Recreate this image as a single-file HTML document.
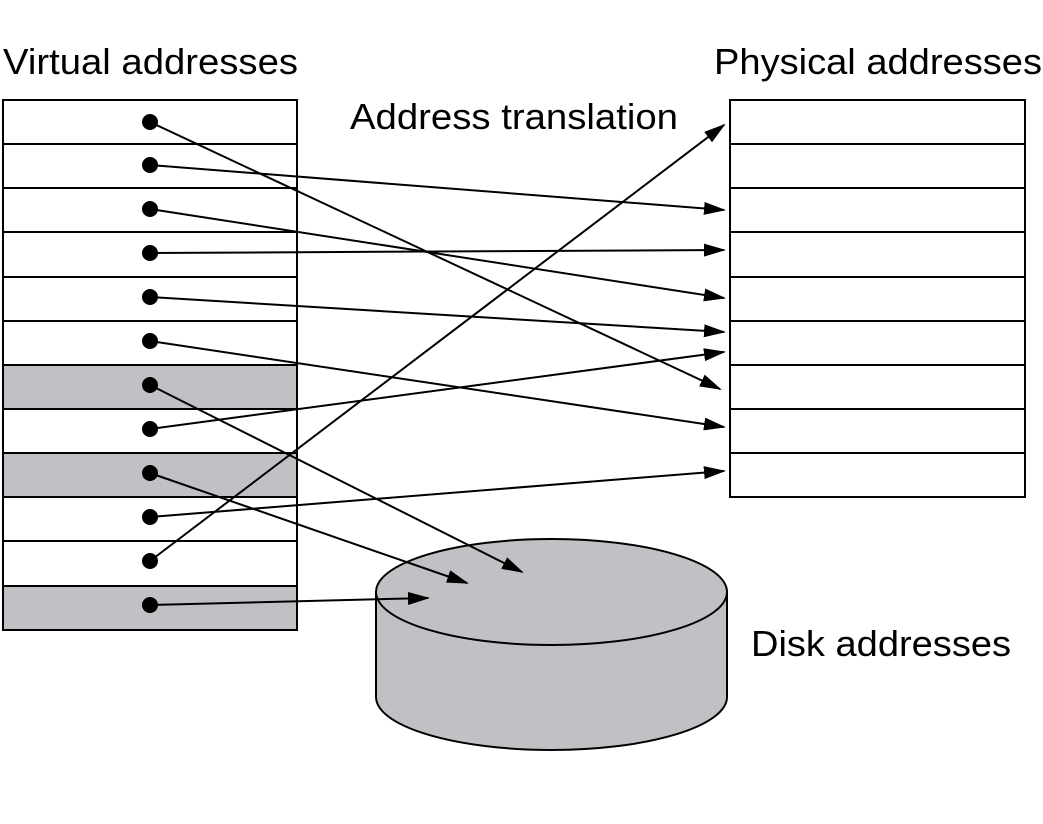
<!DOCTYPE html>
<html><head><style>body{margin:0;background:#fff}svg{display:block}</style></head><body>
<svg width="1043" height="824" xmlns="http://www.w3.org/2000/svg" font-family="Liberation Sans, sans-serif" font-size="36">
<defs><marker id="a" markerWidth="22" markerHeight="13" refX="20" refY="6.5" orient="auto" markerUnits="userSpaceOnUse"><path d="M0,0 L22,6.5 L0,13 z" fill="#000"/></marker></defs>
<text x="3" y="74" textLength="295" lengthAdjust="spacingAndGlyphs">Virtual addresses</text>
<text x="714" y="74" textLength="328" lengthAdjust="spacingAndGlyphs">Physical addresses</text>
<text x="350" y="129" textLength="328" lengthAdjust="spacingAndGlyphs">Address translation</text>
<text x="751" y="656" textLength="260" lengthAdjust="spacingAndGlyphs">Disk addresses</text>
<g stroke="#000" stroke-width="2">
<rect x="3" y="100" width="294" height="530" fill="#fff"/>
<rect x="3" y="365" width="294" height="44" fill="#c0c1c4"/>
<rect x="3" y="453" width="294" height="44" fill="#c0c1c4"/>
<rect x="3" y="586" width="294" height="44" fill="#c0c1c4"/>
<path d="M3,144H297M3,188H297M3,232H297M3,277H297M3,321H297M3,365H297M3,409H297M3,453H297M3,497H297M3,541H297M3,586H297"/>
<rect x="730" y="100" width="295" height="397" fill="#fff"/>
<path d="M730,144H1025M730,188H1025M730,232H1025M730,277H1025M730,321H1025M730,365H1025M730,409H1025M730,453H1025"/>
<path d="M376,592 V697 A175.5,53 0 0 0 727,697 V592 Z" fill="#c0c1c4"/>
<ellipse cx="551.5" cy="592" rx="175.5" ry="53" fill="#c0c1c4"/>
</g>
<g stroke="#000" stroke-width="2" marker-end="url(#a)">
<line x1="150" y1="122" x2="720" y2="389"/>
<line x1="150" y1="165" x2="724" y2="210"/>
<line x1="150" y1="209" x2="724" y2="298"/>
<line x1="150" y1="253" x2="724" y2="250"/>
<line x1="150" y1="297" x2="724" y2="332"/>
<line x1="150" y1="341" x2="724" y2="427"/>
<line x1="150" y1="385" x2="522" y2="572"/>
<line x1="150" y1="429" x2="724" y2="352"/>
<line x1="150" y1="473" x2="467" y2="583"/>
<line x1="150" y1="517" x2="724" y2="471"/>
<line x1="150" y1="561" x2="724" y2="125"/>
<line x1="150" y1="605" x2="428" y2="598"/>
</g>
<g fill="#000">
<circle cx="150" cy="122" r="8"/><circle cx="150" cy="165" r="8"/><circle cx="150" cy="209" r="8"/><circle cx="150" cy="253" r="8"/><circle cx="150" cy="297" r="8"/><circle cx="150" cy="341" r="8"/><circle cx="150" cy="385" r="8"/><circle cx="150" cy="429" r="8"/><circle cx="150" cy="473" r="8"/><circle cx="150" cy="517" r="8"/><circle cx="150" cy="561" r="8"/><circle cx="150" cy="605" r="8"/>
</g>
</svg>
</body></html>
